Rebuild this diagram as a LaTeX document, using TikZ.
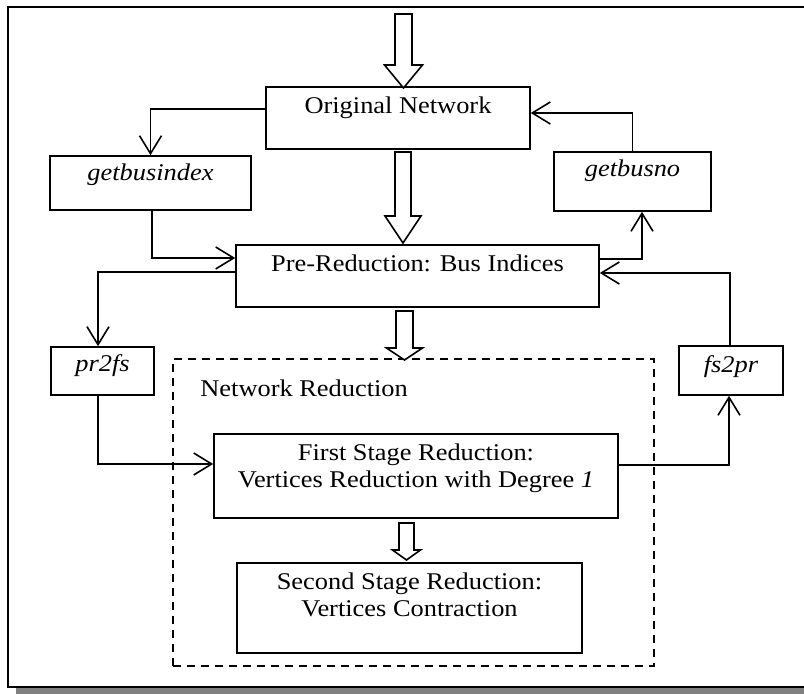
\documentclass[tikz,border=0pt]{standalone}
\usepackage{fontspec}
\setmainfont[FakeStretch=1.1]{Liberation Serif}
\usetikzlibrary{arrows.meta, positioning}

\tikzset{
  box/.style={draw, line width=0.8pt, inner sep=0pt},
  txt/.style={inner sep=0pt, align=center, anchor=north, font=\fontsize{12}{13.8}\selectfont},
  conn/.style={line width=0.8pt, -{Straight Barb[length=9pt, width=11pt, line width=0.8pt]}},
  blk/.style={line width=0.8pt, fill=white},
}
% hollow down arrow: x, top, head base, tip, half shaft, half head
\newcommand{\blockdown}[6]{%
  \draw[blk] ({#1-#5},#2) -- ({#1-#5},#3) -- ({#1-#6},#3) -- (#1,#4)
    -- ({#1+#6},#3) -- ({#1+#5},#3) -- ({#1+#5},#2) -- cycle;}

\begin{document}
\begin{tikzpicture}[x=0.5pt, y=-0.5pt]
  \useasboundingbox (0,0) rectangle (804,694);
  \fill[black!50] (16,687) rectangle (814,700);
  \draw[line width=1.3pt, fill=white] (8,7) rectangle (808,687);

  \node[box, minimum width=132pt, minimum height=31pt] (orig) at (398,118) {};
  \node[box, minimum width=181.5pt, minimum height=31pt] (pre) at (417.5,276) {};
  \node[box, minimum width=100.5pt, minimum height=27pt] (gbi) at (150.5,183) {};
  \node[box, minimum width=78.5pt, minimum height=29.5pt] (gbn) at (632.5,181.5) {};
  \node[box, minimum width=51.5pt, minimum height=24pt] (p2f) at (102.5,371) {};
  \node[box, minimum width=52pt, minimum height=24.5pt] (f2p) at (731,370.5) {};
  \node[box, dashed, dash pattern=on 4pt off 3pt, minimum width=240.5pt, minimum height=153.5pt] (nred) at (413.5,512.5) {};
  \node[box, minimum width=202pt, minimum height=42pt] (fst) at (416,476) {};
  \node[box, minimum width=172.5pt, minimum height=45pt] (snd) at (409.5,608) {};

  \node[txt] (orig-t) at ([yshift=-5pt]orig.north) {Original Network};
  \node[txt] (pre-t) at ([yshift=-5pt]pre.north) {Pre-Reduction: Bus Indices};
  \node[txt] (gbi-t) at ([yshift=-4pt]gbi.north) {\itshape getbusindex};
  \node[txt] (gbn-t) at ([yshift=-4pt]gbn.north) {\itshape getbusno};
  \node[txt] (p2f-t) at ([yshift=-4pt]p2f.north) {\itshape pr2fs};
  \node[txt] (f2p-t) at ([yshift=-5pt]f2p.north) {\itshape fs2pr};
  \node[txt, anchor=base west] (nred-t) at (200,397) {Network Reduction};
  \node[txt] (fst-t) at ([yshift=-5pt]fst.north) {First Stage Reduction:\\ Vertices Reduction with Degree \textit{1}};
  \node[txt] (snd-t) at ([yshift=-5pt]snd.north) {Second Stage Reduction:\\ Vertices Contraction};

  \draw[conn] ([yshift=4.5pt]orig.west) -| (gbi.north);
  \draw[conn] ([xshift=0.75pt]gbi.south) |- ([yshift=9pt]pre.west);
  \draw[conn] ([yshift=2pt]pre.west) -| ([xshift=-2.25pt]p2f.north);
  \draw[conn] ([xshift=-2.25pt]p2f.south) |- ([yshift=6pt]fst.west);
  \draw[conn] ([yshift=5.5pt]fst.east) -| ([xshift=-1pt]f2p.south);
  \draw[conn] ([xshift=-0.5pt]f2p.north) |- ([yshift=1.5pt]pre.east);
  \draw[conn] ([yshift=8.5pt]pre.east) -| ([xshift=4.75pt]gbn.south);
  \draw[conn] (gbn.north) |- ([yshift=2.5pt]orig.east);

  \blockdown{403.5}{14}{65}{88}{8.5}{19}
  \blockdown{403}{152}{216}{243}{8}{18}
  \blockdown{404.5}{311}{348}{360}{8.5}{18}
  \blockdown{406.5}{523}{550}{560}{7.5}{14}
\end{tikzpicture}
\end{document}
